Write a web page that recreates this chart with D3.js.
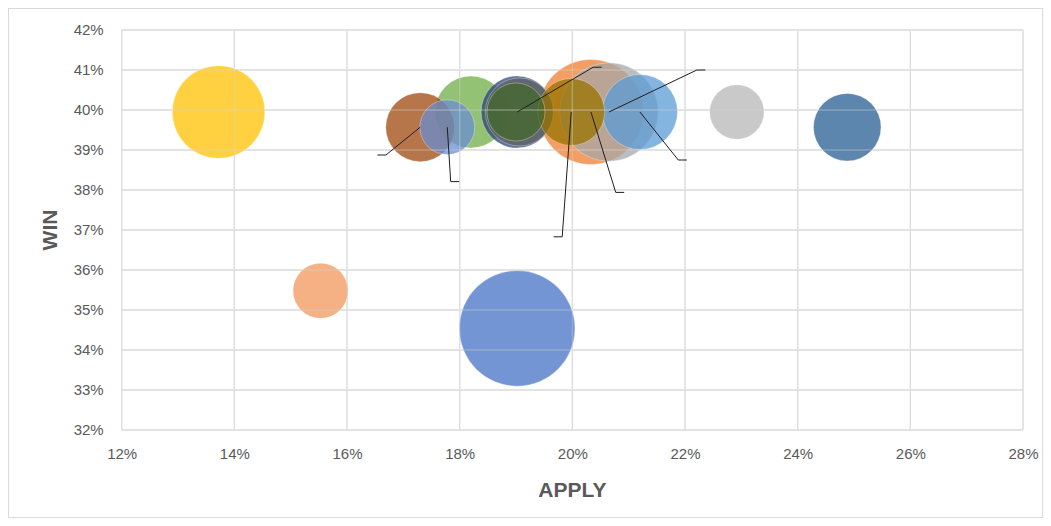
<!DOCTYPE html>
<html>
<head>
<meta charset="utf-8">
<script src="https://cdn.jsdelivr.net/npm/d3@7"></script>
<style>
  html, body { margin: 0; padding: 0; background: #fff; }
  svg { display: block; }
  .tick text { fill: #595959; font-family: "Liberation Sans", Arial, sans-serif; font-size: 15px; }
  .title { fill: #595959; font-family: "Liberation Sans", Arial, sans-serif; font-weight: bold; font-size: 21px; }
</style>
</head>
<body>
<svg id="chart" width="1051" height="526"></svg>
<script>
// Bubble data: apply rate (%), win rate (%), bubble size, point colour
const apply = [21.20, 20.33, 20.65, 13.72, 19.02, 18.20, 24.88, 17.30, 19.06, 19.98, 19.02, 19.00, 15.53, 22.92, 17.78];
const win   = [39.95, 39.95, 39.95, 39.95, 34.54, 39.95, 39.57, 39.57, 39.95, 39.95, 39.95, 39.95, 35.48, 39.95, 39.57];
const size  = [141, 276, 242, 214, 334, 130, 114, 119, 116, 112, 130, 84, 76, 74, 75];
const colors = ["#5B9BD5", "#ED7D31", "#A5A5A5", "#FFC000", "#4472C4", "#70AD47", "#255E91",
                "#9E480E", "#636363", "#997300", "#264478", "#43682B", "#F1975A", "#B7B7B7", "#698ED0"];

// Data-label anchors (empty labels with leader lines): point index, label apply %, label win %
const labelPoint = [7, 14, 10, 9, 1, 2, 0];
const labelApply = [16.69, 17.84, 20.37, 19.82, 20.77, 22.21, 21.88];
const labelWin   = [38.875, 38.21, 41.07, 36.83, 37.94, 41.00, 38.75];

// Axis ticks
const xTicks = [12, 14, 16, 18, 20, 22, 24, 26, 28];
const yTicks = [32, 33, 34, 35, 36, 37, 38, 39, 40, 41, 42];

const svg = d3.select("#chart");
const W = 1051, H = 526;
const plot = { left: 121.7, right: 1023, top: 30, bottom: 430 };

// chart frame
svg.append("rect")
  .attr("x", 8.5).attr("y", 8.5).attr("width", W - 17).attr("height", H - 17)
  .attr("fill", "#fff").attr("stroke", "#D9D9D9").attr("stroke-width", 1);

const x = d3.scaleLinear().domain([12, 28]).range([plot.left, plot.right]);
const y = d3.scaleLinear().domain([32, 42]).range([plot.bottom, plot.top]);
const r = d3.scaleSqrt().domain([0, d3.max(size)]).range([0, 57.8]);

function drawGrid(g, color, opacity, width) {
  g.selectAll("line.v").data(xTicks).join("line")
    .attr("class", "v")
    .attr("x1", d => x(d)).attr("x2", d => x(d))
    .attr("y1", plot.top).attr("y2", plot.bottom)
    .attr("stroke", color).attr("stroke-opacity", opacity).attr("stroke-width", width);
  g.selectAll("line.h").data(yTicks).join("line")
    .attr("class", "h")
    .attr("x1", plot.left).attr("x2", plot.right)
    .attr("y1", d => y(d)).attr("y2", d => y(d))
    .attr("stroke", color).attr("stroke-opacity", opacity).attr("stroke-width", width);
}

drawGrid(svg.append("g"), "#D9D9D9", 1, 1.3);

// axes (labels only)
const xAxis = svg.append("g")
  .attr("transform", `translate(0,${plot.bottom})`)
  .call(d3.axisBottom(x).tickValues(xTicks).tickSize(0).tickPadding(18).tickFormat(d => d + "%"));
xAxis.select(".domain").remove();

const yAxis = svg.append("g")
  .attr("transform", `translate(${plot.left},0)`)
  .call(d3.axisLeft(y).tickValues(yTicks).tickSize(0).tickPadding(18).tickFormat(d => d + "%"));
yAxis.select(".domain").remove();

// bubbles, larger ones underneath
const points = apply.map((a, i) => ({ i, a, w: win[i], s: size[i], c: colors[i] }))
  .sort((p, q) => q.s - p.s);

svg.append("g").selectAll("circle").data(points).join("circle")
  .attr("cx", d => x(d.a))
  .attr("cy", d => y(d.w))
  .attr("r", d => r(d.s))
  .attr("fill", d => d.c)
  .attr("fill-opacity", 0.75)
  .attr("stroke", "#ffffff")
  .attr("stroke-opacity", 0.4)
  .attr("stroke-width", 0.8);

// faint gridlines seen through the bubbles
drawGrid(svg.append("g"), "#E4E4E4", 0.35, 1.3);

// leader lines for the data labels
const leaders = svg.append("g").attr("fill", "none").attr("stroke", "#1F1F1F").attr("stroke-width", 1);
labelPoint.forEach((pi, k) => {
  const px = x(apply[pi]), py = y(win[pi]);
  const lx = x(labelApply[k]), ly = y(labelWin[k]);
  const dir = lx < px ? -1 : 1;
  leaders.append("path")
    .attr("d", `M${px},${py}L${lx},${ly}L${lx + dir * 8.5},${ly}`);
});

// axis titles
svg.append("text").attr("class", "title")
  .attr("x", (plot.left + plot.right) / 2).attr("y", 497)
  .attr("text-anchor", "middle").text("APPLY");

svg.append("text").attr("class", "title")
  .attr("transform", `translate(57,${(plot.top + plot.bottom) / 2}) rotate(-90)`)
  .attr("text-anchor", "middle").text("WIN");
</script>
</body>
</html>
